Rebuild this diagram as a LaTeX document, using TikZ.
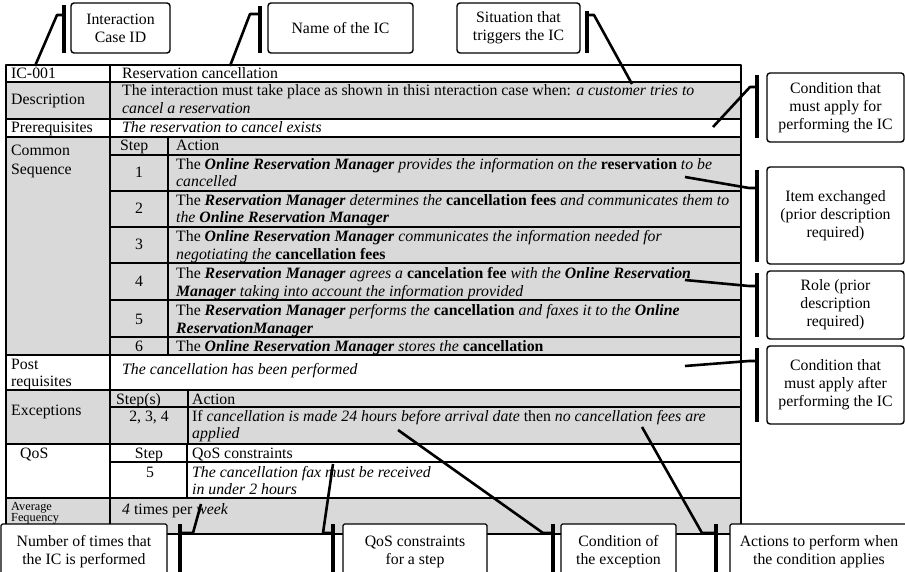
\documentclass[tikz,border=0pt]{standalone}
\usepackage{fontspec}
\setmainfont{Liberation Serif}
\newcommand\mainfs{\fontsize{15.8}{18}\selectfont}
\newcommand\smallfs{\fontsize{12.3}{12}\selectfont}
\newcommand\bi[1]{\textbf{\textit{#1}}}
\definecolor{cellgrey}{RGB}{217,217,217}
\begin{document}
\begin{tikzpicture}[x=1pt,y=-1pt,line join=round,
  tline/.style={line width=1.1pt},
  txt/.style={anchor=base west,inner sep=0pt,font=\mainfs},
  ctxt/.style={anchor=base,inner sep=0pt,font=\mainfs},
  stxt/.style={anchor=base west,inner sep=0pt,font=\smallfs},
  callout/.style={draw,line width=1.4pt,rounded corners=3pt,fill=white,align=center,font=\mainfs,inner sep=0pt},
  bcallout/.style={draw,line width=1.2pt,rounded corners=1.5pt,fill=white,align=center,font=\mainfs,inner sep=0pt},
  bar/.style={line width=4pt},
  leader/.style={line width=2.6pt}]
\useasboundingbox (0,0) rectangle (905,572);
\clip (0,0) rectangle (905,572);

% ---------- table background ----------
\fill[cellgrey] (6,82) rectangle (741,119);
\fill[cellgrey] (6,137) rectangle (741,355);
\fill[cellgrey] (6,390) rectangle (741,444);
\fill[cellgrey] (6,498) rectangle (741,534);

% ---------- table lines ----------
\draw[tline] (6,65) rectangle (741,534);
\foreach \yy in {82,119,137,355,390,444,498} \draw[tline] (6,\yy) -- (741,\yy);
\draw[tline] (110,65) -- (110,534);
\foreach \yy in {155,191,227,263,300,337} \draw[tline] (110,\yy) -- (741,\yy);
\draw[tline] (168,137) -- (168,355);
\draw[tline] (110,407) -- (741,407);
\draw[tline] (188,390) -- (188,444);
\draw[tline] (110,462) -- (741,462);
\draw[tline] (187,444) -- (187,498);

% ---------- table text ----------
\node[txt] (id) at (11,79) {IC-001};
\node[txt] (name) at (122,79) {Reservation cancellation};
\node[txt] (desc) at (11,105) {Description};
\node[txt] (desc1) at (122,96) {The interaction must take place as shown in thisi nteraction case when: \textit{a customer tries to}};
\node[txt] (desc2) at (122,114) {\textit{cancel a reservation}};
\node[txt] (pre) at (11,133) {Prerequisites};
\node[txt] (pretext) at (122,133) {\textit{The reservation to cancel exists}};
\node[txt] (cs1) at (11,156) {Common};
\node[txt] (cs2) at (11,175) {Sequence};
\node[txt] (csstep) at (120,151) {Step};
\node[txt] (csact) at (176,151) {Action};
\node[ctxt] (n1) at (139,178) {1};
\node[txt] (s1a) at (176,170) {The \bi{Online Reservation Manager} \textit{provides the information on the} \textbf{reservation} \textit{to be}};
\node[txt] (s1b) at (176,187) {\textit{cancelled}};
\node[ctxt] (n2) at (139,214) {2};
\node[txt] (s2a) at (176,206) {The \bi{Reservation Manager} \textit{determines the} \textbf{cancellation fees} \textit{and communicates them to}};
\node[txt] (s2b) at (176,223) {\textit{the} \bi{Online Reservation Manager}};
\node[ctxt] (n3) at (139,250) {3};
\node[txt] (s3a) at (176,242) {The \bi{Online Reservation Manager} \textit{communicates the information needed for}};
\node[txt] (s3b) at (176,259) {\textit{negotiating the} \textbf{cancellation fees}};
\node[ctxt] (n4) at (139,287) {4};
\node[txt] (s4a) at (176,278) {The \bi{Reservation Manager} \textit{agrees a} \textbf{cancelation fee} \textit{with the} \bi{Online Reservation}};
\node[txt] (s4b) at (176,296) {\bi{Manager} \textit{taking into account the information provided}};
\node[ctxt] (n5) at (139,324) {5};
\node[txt] (s5a) at (176,315) {The \bi{Reservation Manager} \textit{performs the} \textbf{cancellation} \textit{and faxes it to the} \bi{Online}};
\node[txt] (s5b) at (176,333) {\bi{ReservationManager}};
\node[ctxt] (n6) at (139,351) {6};
\node[txt] (s6a) at (176,351) {The \bi{Online Reservation Manager} \textit{stores the} \textbf{cancellation}};
\node[txt] (post1) at (11,369) {Post};
\node[txt] (post2) at (11,386) {requisites};
\node[txt] (posttext) at (122,374) {\textit{The cancellation has been performed}};
\node[txt] (exc) at (11,415) {Exceptions};
\node[txt] (excstep) at (116,404) {Step(s)};
\node[txt] (excact) at (192,404) {Action};
\node[ctxt] (excn) at (149,421) {2, 3, 4};
\node[txt] (exca) at (192,421) {If \textit{cancellation is made 24 hours before arrival date} then \textit{no cancellation fees are}};
\node[txt] (excb) at (192,438) {\textit{applied}};
\node[txt] (qos) at (20,458) {QoS};
\node[ctxt] (qosstep) at (149,458) {Step};
\node[txt] (qoscon) at (192,458) {QoS constraints};
\node[ctxt] (qosn) at (150,477) {5};
\node[txt] (qosa) at (192,477) {\textit{The cancellation fax must be received}};
\node[txt] (qosb) at (192,494) {\textit{in under 2 hours}};
\node[stxt] (avg1) at (11,510) {Average};
\node[stxt] (avg2) at (11,521) {Fequency};
\node[txt] (avgtext) at (122,514) {\textit{4} times per \textit{week}};

% ---------- top callouts ----------
\node[callout,minimum width=99pt,minimum height=50pt] (cID) at (120.5,28) {Interaction\\Case ID};
\node[callout,minimum width=145pt,minimum height=50pt] (cName) at (340.5,28) {Name of the IC};
\node[callout,minimum width=123pt,minimum height=50pt] (cSit) at (518.5,28) {Situation that\\triggers the IC};
\coordinate (bID1) at (64,5);   \coordinate (bID2) at (64,53);  \coordinate (bIDj) at (64,15);
\coordinate (bNm1) at (260,6);  \coordinate (bNm2) at (260,53); \coordinate (bNmj) at (260,14);
\coordinate (bSi1) at (587,11); \coordinate (bSi2) at (587,53); \coordinate (bSij) at (587,15);
\coordinate (tID) at (35,66);
\coordinate (tNm) at (230,66);
\coordinate (tSi) at (632,84);
\draw[bar] (bID1) -- (bID2);
\draw[bar] (bNm1) -- (bNm2);
\draw[bar] (bSi1) -- (bSi2);
\draw[leader] (bIDj) -- ++(-7,0) -- (tID);
\draw[leader] (bNmj) -- ++(-10,0) -- (tNm);
\draw[leader] (bSij) -- ++(7,0) -- (tSi);

% ---------- right callouts ----------
\node[callout,minimum width=137pt,minimum height=69pt] (cPre) at (835.5,107.5) {Condition that\\must apply for\\performing the IC};
\node[callout,minimum width=137pt,minimum height=97pt] (cItem) at (835.5,215.5) {Item exchanged\\(prior description\\required)};
\node[callout,minimum width=137pt,minimum height=68pt] (cRole) at (835.5,305) {Role (prior\\description\\required)};
\node[callout,minimum width=137pt,minimum height=78pt] (cPost) at (835.5,385) {Condition that\\must apply after\\performing the IC};
\coordinate (bPr1) at (757,75);  \coordinate (bPr2) at (757,138); \coordinate (bPrj) at (757,87);
\coordinate (bIt1) at (757,170); \coordinate (bIt2) at (757,262); \coordinate (bItj) at (757,188);
\coordinate (bRo1) at (757,273); \coordinate (bRo2) at (757,337); \coordinate (bRoj) at (757,286);
\coordinate (bPo1) at (757,348); \coordinate (bPo2) at (757,422); \coordinate (bPoj) at (757,361);
\coordinate (tPr) at (713,127);
\coordinate (tIt) at (685,177);
\coordinate (tRo) at (685,280);
\coordinate (tPo) at (685,366);
\draw[bar] (bPr1) -- (bPr2);
\draw[bar] (bIt1) -- (bIt2);
\draw[bar] (bRo1) -- (bRo2);
\draw[bar] (bPo1) -- (bPo2);
\draw[leader] (bPrj) -- ++(-7,0) -- (tPr);
\draw[leader] (bItj) -- ++(-8,0) -- (tIt);
\draw[leader] (bRoj) -- ++(-8,0) -- (tRo);
\draw[leader] (bPoj) -- ++(-8,0) -- (tPo);

% ---------- bottom callouts ----------
\node[bcallout,minimum width=166pt,minimum height=56pt] (cFreq) at (84,552) {Number of times that\\the IC is performed};
\node[bcallout,minimum width=144pt,minimum height=56pt] (cQoS) at (415,552) {QoS constraints\\for a step};
\node[bcallout,minimum width=115pt,minimum height=56pt] (cExc) at (618.5,552) {Condition of\\the exception};
\node[bcallout,minimum width=178pt,minimum height=56pt] (cAct) at (819,552) {Actions to perform when\\the condition applies};
\coordinate (bFr1) at (180,524); \coordinate (bFr2) at (180,574); \coordinate (bFrj) at (180,533);
\coordinate (bQo1) at (333,524); \coordinate (bQo2) at (333,574); \coordinate (bQoj) at (333,533);
\coordinate (bEx1) at (553,524); \coordinate (bEx2) at (553,574); \coordinate (bExj) at (553,533);
\coordinate (bAc1) at (716,524); \coordinate (bAc2) at (716,574); \coordinate (bAcj) at (716,533);
\coordinate (tFr) at (201,504);
\coordinate (tQo) at (333,464);
\coordinate (tEx) at (398,430);
\coordinate (tAc) at (642,427);
\draw[bar] (bFr1) -- (bFr2);
\draw[bar] (bQo1) -- (bQo2);
\draw[bar] (bEx1) -- (bEx2);
\draw[bar] (bAc1) -- (bAc2);
\draw[leader] (bFrj) -- ++(13,0) -- (tFr);
\draw[leader] (bQoj) -- ++(-10,0) -- (tQo);
\draw[leader] (bExj) -- ++(-10,0) -- (tEx);
\draw[leader] (bAcj) -- ++(-14,0) -- (tAc);
\end{tikzpicture}
\end{document}
